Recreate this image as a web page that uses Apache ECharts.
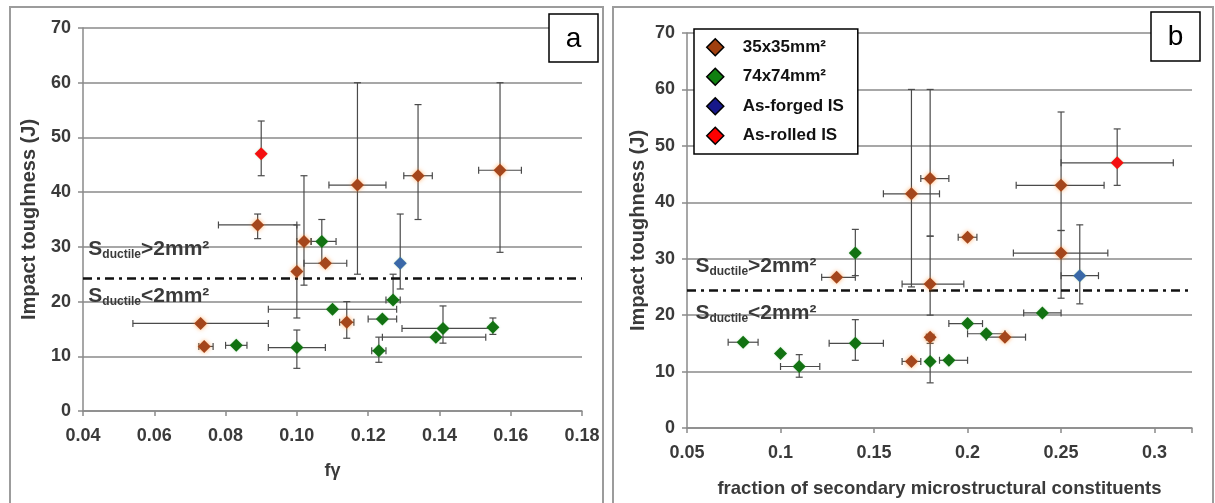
<!DOCTYPE html>
<html>
<head>
<meta charset="utf-8">
<script src="https://cdn.jsdelivr.net/npm/echarts@6/dist/echarts.min.js"></script>
<style>
html,body{margin:0;padding:0;background:#fff;}
#c{width:1215px;height:503px;}
</style>
</head>
<body>
<div id="c"></div>
<script>
// ---------- DATA ----------
// each row: [x, y, xLow, xHigh, yLow, yHigh]  (null = no error bar)
const seriesNames = ['35x35mm²', '74x74mm²', 'As-forged IS', 'As-rolled IS'];

// Panel a : x = fγ
const brownA = [
  [0.073, 16.0, 0.054, 0.092, null, null],
  [0.074, 11.8, 0.0725, 0.0765, null, null],
  [0.089, 34.0, 0.078, 0.100, 31.5, 36.0],
  [0.100, 25.5, null, null, 17.0, 34.0],
  [0.102, 31.0, 0.100, 0.104, 23.0, 43.0],
  [0.108, 27.0, 0.102, 0.114, null, null],
  [0.114, 16.2, 0.112, 0.116, 13.3, 20.0],
  [0.117, 41.3, 0.109, 0.125, 25.0, 60.0],
  [0.134, 43.0, 0.130, 0.138, 35.0, 56.0],
  [0.157, 44.0, 0.151, 0.163, 29.0, 60.0]
];
const greenA = [
  [0.083, 12.0, 0.080, 0.086, null, null],
  [0.100, 11.6, 0.092, 0.108, 7.8, 14.8],
  [0.107, 31.0, 0.104, 0.111, 27.0, 35.0],
  [0.110, 18.6, 0.092, 0.128, null, null],
  [0.123, 11.0, 0.121, 0.125, 8.9, 13.5],
  [0.124, 16.8, 0.120, 0.128, null, null],
  [0.127, 20.3, 0.125, 0.129, 20.3, 25.0],
  [0.139, 13.5, 0.124, 0.153, null, null],
  [0.141, 15.1, 0.1295, 0.155, 12.4, 19.2],
  [0.155, 15.3, null, null, 14.0, 17.0]
];
const blueA = [[0.129, 27.0, null, null, 22.3, 36.0]];
const redA = [[0.090, 47.0, null, null, 43.0, 53.0]];
const thresholdA = 24.3;
const xTicksA = ['0.04', '0.06', '0.08', '0.10', '0.12', '0.14', '0.16', '0.18'];

// Panel b : x = fraction of secondary microstructural constituents
const brownB = [
  [0.130, 26.7, 0.122, 0.140, null, null],
  [0.170, 41.5, 0.155, 0.185, 25.0, 60.0],
  [0.170, 11.8, 0.165, 0.175, null, null],
  [0.180, 44.2, 0.175, 0.190, 34.0, 60.0],
  [0.180, 25.5, 0.165, 0.198, 20.0, 34.0],
  [0.180, 16.1, 0.178, 0.182, null, null],
  [0.200, 33.8, 0.195, 0.205, null, null],
  [0.220, 16.1, 0.210, 0.231, null, null],
  [0.250, 43.0, 0.226, 0.273, 35.0, 56.0],
  [0.250, 31.0, 0.2245, 0.275, 23.0, 35.0]
];
const greenB = [
  [0.080, 15.2, 0.072, 0.088, null, null],
  [0.100, 13.2, null, null, null, null],
  [0.110, 10.9, 0.100, 0.121, 9.0, 13.0],
  [0.140, 15.0, 0.126, 0.155, 12.0, 19.2],
  [0.140, 31.0, null, null, 27.0, 35.2],
  [0.180, 11.8, null, null, 8.0, 15.0],
  [0.190, 12.0, 0.185, 0.200, null, null],
  [0.200, 18.5, 0.190, 0.208, null, null],
  [0.210, 16.7, 0.200, 0.220, null, null],
  [0.240, 20.4, 0.230, 0.250, null, null]
];
const blueB = [[0.260, 27.0, 0.250, 0.270, 22.0, 36.0]];
const redB = [[0.280, 47.0, 0.250, 0.310, 43.0, 53.0]];
const thresholdB = 24.5;
const xTicksB = ['0.05', '0.1', '0.15', '0.2', '0.25', '0.3'];

const yTicks = ['0', '10', '20', '30', '40', '50', '60', '70'];

// region labels: [x, y] in data units of each panel
const regionLabelsA = [[0.0415, 29.4], [0.0415, 20.9]];
const regionLabelsB = [[0.0545, 28.5], [0.0545, 20.3]];
const regionTexts = ['>2mm²', '<2mm²'];

// ---------- STYLE ----------
const FONT = 'Liberation Sans, Arial, sans-serif';
const plotColors = ['#a4461c', '#127212', '#3a68a8', '#f41010'];
const legendColors = ['#a0400f', '#108010', '#17188a', '#ff0000'];
const TXT = '#3a3a3a';
const GRIDC = '#8a8a8a';

function errRender(params, api) {
  const x = api.value(0), y = api.value(1);
  const xl = api.value(2), xh = api.value(3), yl = api.value(4), yh = api.value(5);
  const ok = v => v !== null && v !== undefined && !isNaN(v);
  const ch = [];
  const st = { stroke: '#4a4a4a', lineWidth: 1.2 };
  const cap = 3.5;
  if (ok(xl) && ok(xh)) {
    const a = api.coord([xl, y]), b = api.coord([xh, y]);
    ch.push({ type: 'line', shape: { x1: a[0], y1: a[1], x2: b[0], y2: b[1] }, style: st });
    ch.push({ type: 'line', shape: { x1: a[0], y1: a[1] - cap, x2: a[0], y2: a[1] + cap }, style: st });
    ch.push({ type: 'line', shape: { x1: b[0], y1: b[1] - cap, x2: b[0], y2: b[1] + cap }, style: st });
  }
  if (ok(yl) && ok(yh)) {
    const a = api.coord([x, yl]), b = api.coord([x, yh]);
    ch.push({ type: 'line', shape: { x1: a[0], y1: a[1], x2: b[0], y2: b[1] }, style: st });
    ch.push({ type: 'line', shape: { x1: a[0] - cap, y1: a[1], x2: a[0] + cap, y2: a[1] }, style: st });
    ch.push({ type: 'line', shape: { x1: b[0] - cap, y1: b[1], x2: b[0] + cap, y2: b[1] }, style: st });
  }
  return { type: 'group', children: ch };
}

function labelRender(params, api) {
  const p = api.coord([api.value(0), api.value(1)]);
  return {
    type: 'text', x: p[0], y: p[1],
    style: {
      text: '{s|S}{d|ductile}{s|' + regionTexts[params.dataIndex] + '}',
      rich: {
        s: { fontSize: 21, fontWeight: 'bold', fontFamily: FONT, fill: TXT, lineHeight: 22, verticalAlign: 'top' },
        d: { fontSize: 12, fontWeight: 'bold', fontFamily: FONT, fill: TXT, lineHeight: 8, verticalAlign: 'bottom' }
      },
      verticalAlign: 'middle', align: 'left'
    }
  };
}

function panelSeries(idx, groups, threshold, labels) {
  const out = [];
  groups.forEach((g, i) => {
    out.push({
      type: 'custom', name: 'err' + idx + '_' + i, xAxisIndex: idx, yAxisIndex: idx,
      renderItem: errRender, data: g, encode: { x: 0, y: 1 }, z: 3, silent: true
    });
  });
  groups.forEach((g, i) => {
    out.push({
      type: 'scatter', name: seriesNames[i], xAxisIndex: idx, yAxisIndex: idx,
      data: g.map(r => [r[0], r[1]]), symbol: 'diamond', symbolSize: 13, z: 5,
      itemStyle: { color: plotColors[i], opacity: 1, shadowBlur: i === 0 ? 4 : 2, shadowColor: i === 0 ? 'rgba(255,140,40,0.7)' : 'rgba(120,200,120,0.5)' }
    });
  });
  out.push({
    type: 'line', name: 'thr' + idx, xAxisIndex: idx, yAxisIndex: idx, data: [], z: 4,
    markLine: {
      silent: true, symbol: ['none', 'none'], label: { show: false },
      lineStyle: { color: '#111', width: 2.5, type: [9, 5, 3, 5] },
      data: [{ yAxis: threshold }]
    }
  });
  out.push({
    type: 'custom', name: 'lbl' + idx, xAxisIndex: idx, yAxisIndex: idx,
    renderItem: labelRender, data: labels, encode: { x: 0, y: 1 }, z: 6, silent: true
  });
  return out;
}

function xAxis(idx, min, max, interval, ticks, name, fs) {
  return {
    type: 'value', gridIndex: idx, min: min, max: max, interval: interval,
    name: name, nameLocation: 'middle', nameGap: 51,
    nameTextStyle: { fontFamily: FONT, fontWeight: 'bold', fontSize: fs, color: TXT },
    axisLine: { show: true, lineStyle: { color: GRIDC, width: 1.5 } },
    axisTick: { show: true, length: 5, lineStyle: { color: GRIDC, width: 1.5 } },
    splitLine: { show: false },
    axisLabel: {
      margin: 16, fontFamily: FONT, fontWeight: 'bold', fontSize: 18, color: TXT,
      formatter: v => { const k = Math.round((v - min) / interval); return (Math.abs(min + k * interval - v) < 1e-9 && ticks[k] !== undefined) ? ticks[k] : ''; }
    }
  };
}
function yAxis(idx, gap) {
  return {
    type: 'value', gridIndex: idx, min: 0, max: 70, interval: 10,
    name: 'Impact toughness (J)', nameLocation: 'middle', nameRotate: 90, nameGap: gap,
    nameTextStyle: { fontFamily: FONT, fontWeight: 'bold', fontSize: 20, color: TXT },
    axisLine: { show: true, lineStyle: { color: GRIDC, width: 1.5 } },
    axisTick: { show: true, length: 5, lineStyle: { color: GRIDC, width: 1.5 } },
    splitLine: { show: true, lineStyle: { color: GRIDC, width: 1.5 } },
    axisLabel: {
      margin: 12, fontFamily: FONT, fontWeight: 'bold', fontSize: 18, color: TXT,
      formatter: v => yTicks[Math.round(v / 10)]
    }
  };
}

const chart = echarts.init(document.getElementById('c'), null, { renderer: 'canvas' });
const groupsA = [brownA, greenA, blueA, redA];
const groupsB = [brownB, greenB, blueB, redB];

chart.setOption({
  animation: false,
  backgroundColor: '#fff',
  grid: [
    { left: 83, top: 28, width: 499, height: 383 },
    { left: 687, top: 33, width: 505, height: 396 }
  ],
  xAxis: [
    xAxis(0, 0.04, 0.18, 0.02, xTicksA, 'fγ', 18),
    xAxis(1, 0.05, 0.32, 0.05, xTicksB, 'fraction of secondary microstructural constituents', 18.5)
  ],
  yAxis: [yAxis(0, 44), yAxis(1, 39)],
  legend: {
    orient: 'vertical', left: 694, top: 29, width: 140,
    padding: [9, 14, 9, 12], itemGap: 11, itemWidth: 17, itemHeight: 17,
    backgroundColor: '#fff', borderColor: '#000', borderWidth: 1.5,
    icon: 'diamond',
    itemStyle: { borderColor: '#000', borderWidth: 1.5 },
    textStyle: { fontFamily: FONT, fontWeight: 'bold', fontSize: 17, color: '#111', padding: [0, 0, 0, 14], lineHeight: 17 },
    data: seriesNames.map((n, i) => ({ name: n, itemStyle: { color: legendColors[i] } })),
    selectedMode: false, z: 10
  },
  graphic: [
    { type: 'rect', shape: { x: 10, y: 7, width: 593, height: 500 }, style: { fill: 'none', stroke: '#9c9c9c', lineWidth: 2 }, z: 1 },
    { type: 'rect', shape: { x: 613, y: 7, width: 600, height: 500 }, style: { fill: 'none', stroke: '#9c9c9c', lineWidth: 2 }, z: 1 },
    { type: 'rect', shape: { x: 549, y: 14, width: 49, height: 48 }, style: { fill: '#fff', stroke: '#000', lineWidth: 1.5 }, z: 20 },
    { type: 'text', x: 573.5, y: 39, style: { text: 'a', font: '28px ' + FONT, fill: '#000', align: 'center', verticalAlign: 'middle' }, z: 21 },
    { type: 'rect', shape: { x: 1151, y: 12, width: 49, height: 49 }, style: { fill: '#fff', stroke: '#000', lineWidth: 1.5 }, z: 20 },
    { type: 'text', x: 1175.5, y: 37, style: { text: 'b', font: '28px ' + FONT, fill: '#000', align: 'center', verticalAlign: 'middle' }, z: 21 }
  ],
  series: panelSeries(0, groupsA, thresholdA, regionLabelsA).concat(panelSeries(1, groupsB, thresholdB, regionLabelsB))
});
</script>
</body>
</html>
